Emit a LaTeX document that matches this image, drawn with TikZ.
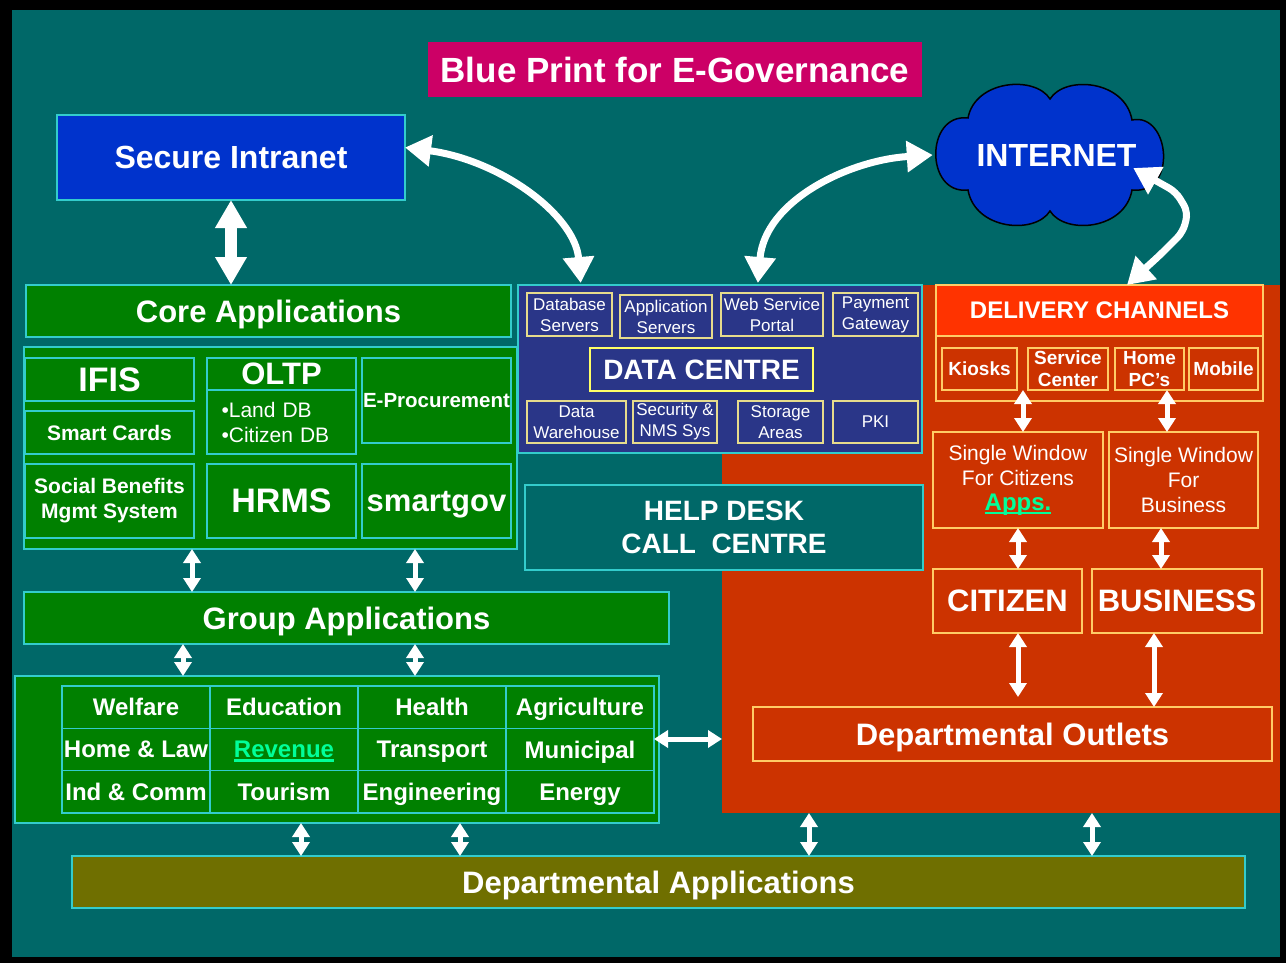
\documentclass[tikz,border=0pt]{standalone}
\usepackage{fontspec}
\setmainfont{Liberation Sans}
\usetikzlibrary{arrows.meta}

\definecolor{bgteal}{RGB}{0,104,104}
\definecolor{edgecyan}{RGB}{51,204,204}
\definecolor{appgreen}{RGB}{0,128,0}
\definecolor{netblue}{RGB}{0,51,204}
\definecolor{titlepink}{RGB}{204,0,102}
\definecolor{dcnavy}{RGB}{42,54,136}
\definecolor{outred}{RGB}{204,51,0}
\definecolor{chanred}{RGB}{255,51,0}
\definecolor{edgeyellow}{RGB}{255,204,102}
\definecolor{dcyellow}{RGB}{255,255,102}
\definecolor{dcbeige}{RGB}{230,220,140}
\definecolor{deptolive}{RGB}{111,111,0}
\definecolor{linkgreen}{RGB}{0,255,153}

\newcommand\greenul[1]{{\color{linkgreen}\setbox0=\hbox{#1}\rlap{\rule[-4pt]{\wd0}{2.5pt}}\box0}}

\tikzset{
  box/.style={draw=edgecyan, line width=1.2pt, inner sep=0pt, outer sep=0pt, text=white, align=center},
  gbox/.style={box, fill=appgreen},
  redzone/.style={fill=outred, inner sep=0pt, outer sep=0pt},
  dcbox/.style={box, draw=dcbeige, font=\fontsize{17}{21}\selectfont},
  rbox/.style={box, draw=edgeyellow},
  hugetext/.style={font=\bfseries\fontsize{34}{38}\selectfont, text depth=0pt},
  bigtext/.style={font=\bfseries\fontsize{32}{36}\selectfont, text depth=0pt},
  largetext/.style={font=\bfseries\fontsize{31}{35}\selectfont, text depth=0pt},
  dctext/.style={font=\bfseries\fontsize{28}{33}\selectfont},
  gridtext/.style={font=\bfseries\fontsize{24}{28}\selectfont, text depth=0pt},
  cardtext/.style={font=\bfseries\fontsize{21}{25}\selectfont},
  plaintext/.style={font=\fontsize{21}{25}\selectfont},
  chantext/.style={font=\bfseries\fontsize{19}{22}\selectfont},
  cell/.style={gbox, minimum width=148pt, minimum height=42.33pt, gridtext},
  dbl/.style={draw=white, line width=5pt, {Triangle[length=14pt,width=17pt]}-{Triangle[length=14pt,width=17pt]}},
  fatdbl/.style={draw=white, line width=12pt, {Triangle[length=28pt,width=30pt]}-{Triangle[length=28pt,width=30pt]}},
  curvy/.style={draw=white, line width=7pt, {Triangle[length=26pt,width=30pt]}-{Triangle[length=26pt,width=30pt]}}
}

\begin{document}
\begin{tikzpicture}[x=1pt,y=-1pt]
% frame and background
\fill[black] (0,0) rectangle (1286,963);
\fill[bgteal] (12,10) rectangle (1280,957);
\node[redzone, minimum width=558pt, minimum height=359pt] (red) at (1001,633.5) {};
\node[redzone, minimum width=358pt, minimum height=171pt] (redtop) at (1101,370) {};

% title, intranet, internet
\node[box, draw=none, fill=titlepink, minimum width=494pt, minimum height=55pt, font=\bfseries\fontsize{35}{38}\selectfont, text depth=0pt] (title) at (675,69.5) {Blue Print for E-Governance};
\node[box, fill=netblue, minimum width=348pt, minimum height=85pt, bigtext] (intra) at (231,157.5) {Secure Intranet};
% cloud
\filldraw[fill=netblue, draw=black, line width=1.5pt] (968,118)
  .. controls (975,80) and (1035,75) .. (1050,99)
  .. controls (1065,75) and (1125,80) .. (1132,120)
  .. controls (1170,112) and (1178,195) .. (1132,190)
  .. controls (1125,230) and (1065,235) .. (1050,211)
  .. controls (1035,235) and (975,230) .. (968,190)
  .. controls (925,195) and (925,113) .. cycle;
\node[inner sep=0pt, minimum width=233pt, minimum height=144pt, text=white, bigtext] (net) at (1049.5,155) {\hspace{14pt}INTERNET};

% core applications
\node[gbox, minimum width=485pt, minimum height=52pt, largetext] (core) at (268.5,311) {Core Applications};
\node[gbox, minimum width=493pt, minimum height=202pt] (corebox) at (270.5,448) {};
\node[gbox, minimum width=169pt, minimum height=43pt, hugetext] (ifis) at (109.5,379.5) {IFIS};
\node[gbox, minimum width=169pt, minimum height=43pt, cardtext] (cards) at (109.5,432.5) {Smart Cards};
\node[gbox, minimum width=149pt, minimum height=32pt, largetext] (oltp) at (281.5,374) {OLTP};
\node[gbox, minimum width=149pt, minimum height=64pt, plaintext, text width=120pt, align=left] (oltpdb) at (281.5,422) {•Land DB\\•Citizen DB};
\node[gbox, minimum width=149pt, minimum height=85pt, font=\bfseries\fontsize{20.5}{24}\selectfont] (eproc) at (436.5,400.5) {E-Procurement};
\node[gbox, minimum width=169pt, minimum height=74pt, cardtext] (social) at (109.5,501) {Social Benefits\\Mgmt System};
\node[gbox, minimum width=149pt, minimum height=74pt, hugetext] (hrms) at (281.5,501) {HRMS};
\node[gbox, minimum width=149pt, minimum height=74pt, largetext] (smart) at (436.5,501) {smartgov};

% group and departmental applications
\node[gbox, minimum width=645pt, minimum height=52pt, largetext] (group) at (346.5,618) {Group Applications};
\node[gbox, minimum width=644pt, minimum height=147pt] (deptbox) at (337,749.5) {};
\node[cell] (welf) at (136,707.2) {Welfare};
\node[cell] (edu) at (284,707.2) {Education};
\node[cell] (health) at (432,707.2) {Health};
\node[cell] (agri) at (580,707.2) {Agriculture};
\node[cell] (home) at (136,749.5) {Home \& Law};
\node[cell] (rev) at (284,749.5) {\greenul{Revenue}};
\node[cell] (trans) at (432,749.5) {Transport};
\node[cell] (muni) at (580,749.5) {Municipal};
\node[cell] (ind) at (136,791.8) {Ind \& Comm};
\node[cell] (tour) at (284,791.8) {Tourism};
\node[cell] (eng) at (432,791.8) {Engineering};
\node[cell] (energy) at (580,791.8) {Energy};
\node[box, fill=deptolive, minimum width=1173pt, minimum height=52pt, largetext] (deptapp) at (658.5,882) {Departmental Applications};

% data centre
\node[box, fill=dcnavy, minimum width=404pt, minimum height=168pt] (dc) at (720,369) {};
\node[dcbox, minimum width=85pt, minimum height=43pt] (dbs) at (569.5,314.5) {Database\\Servers};
\node[dcbox, minimum width=92pt, minimum height=43pt] (aps) at (666,316.5) {Application\\Servers};
\node[dcbox, minimum width=102pt, minimum height=43pt] (wsp) at (772,314.5) {Web Service\\Portal};
\node[dcbox, minimum width=85pt, minimum height=43pt] (pay) at (875.5,314.5) {Payment\\Gateway};
\node[box, draw=dcyellow, minimum width=223pt, minimum height=43pt, dctext] (dcl) at (701.5,369.5) {DATA CENTRE};
\node[dcbox, minimum width=99pt, minimum height=42pt] (dw) at (576.5,422) {Data\\Warehouse};
\node[dcbox, minimum width=84pt, minimum height=42pt] (sec) at (675,422) {Security \&\\NMS Sys};
\node[dcbox, minimum width=85pt, minimum height=42pt] (sto) at (780.5,422) {Storage\\Areas};
\node[dcbox, minimum width=85pt, minimum height=42pt] (pki) at (875.5,422) {PKI};
\node[box, fill=bgteal, minimum width=398pt, minimum height=85pt, dctext] (help) at (724,527.5) {HELP DESK\\CALL\ \ CENTRE};

% delivery channels
\node[rbox, fill=chanred, minimum width=327pt, minimum height=51pt, gridtext] (dlv) at (1099.5,310.5) {DELIVERY CHANNELS};
\node[rbox, minimum width=327pt, minimum height=65pt] (chan) at (1099.5,368.5) {};
\node[rbox, minimum width=75pt, minimum height=42pt, chantext] (kiosk) at (979.5,369) {Kiosks};
\node[rbox, minimum width=80pt, minimum height=42pt, chantext] (svc) at (1068,369) {Service\\Center};
\node[rbox, minimum width=69pt, minimum height=42pt, chantext] (pcs) at (1149.5,369) {Home\\PC’s};
\node[rbox, minimum width=69pt, minimum height=42pt, chantext] (mob) at (1223.5,369) {Mobile};
\node[rbox, minimum width=170pt, minimum height=96pt, plaintext] (swc) at (1018,480) {Single Window\\For Citizens\\{\bfseries\fontsize{24}{25}\selectfont\greenul{Apps.}}};
\node[rbox, minimum width=149pt, minimum height=96pt, plaintext] (swb) at (1183.5,480) {Single Window\\For\\Business};
\node[rbox, minimum width=149pt, minimum height=64pt, largetext] (citizen) at (1007.5,601) {CITIZEN};
\node[rbox, minimum width=170pt, minimum height=64pt, largetext] (business) at (1177,601) {BUSINESS};
\node[rbox, minimum width=519pt, minimum height=54pt, largetext] (outlets) at (1012.5,734) {Departmental Outlets};

% links
\draw[fatdbl] (intra.south) -- (intra.south |- core.north);
\draw[curvy, shorten >=10pt] ([yshift=10pt]intra.east) .. controls (500,160) and (575,215) .. ([xshift=12pt]dbs.north);
\draw[curvy, shorten <=10pt] ([xshift=-15pt]wsp.north) .. controls (765,200) and (850,160) .. (net.west);
\draw[curvy, rounded corners=8pt] ([xshift=-33pt,yshift=-13pt]net.east) -- (1176,192) -- (1188,212) -- (1183,232) -- (1160,255) -- ([xshift=27.5pt]dlv.north);
\draw[dbl] (corebox.south -| 192,0) -- (group.north -| 192,0);
\draw[dbl] (corebox.south -| 415,0) -- (group.north -| 415,0);
\draw[dbl] (group.south -| 183,0) -- (deptbox.north -| 183,0);
\draw[dbl] (group.south -| 415,0) -- (deptbox.north -| 415,0);
\draw[dbl] (deptbox.south -| 301,0) -- (deptapp.north -| 301,0);
\draw[dbl] (deptbox.south -| 460,0) -- (deptapp.north -| 460,0);
\draw[dbl] (red.south -| 809,0) -- (deptapp.north -| 809,0);
\draw[dbl] (red.south -| 1092,0) -- (deptapp.north -| 1092,0);
\draw[dbl] (muni.east |- 0,739) -- (red.west |- 0,739);
\draw[dbl] (kiosk.south -| 1023,0) -- (swc.north -| 1023,0);
\draw[dbl] (pcs.south -| 1167,0) -- (swb.north -| 1167,0);
\draw[dbl] (swc.south) -- (citizen.north -| swc.south);
\draw[dbl] (swb.south -| 1161,0) -- (business.north -| 1161,0);
\draw[dbl, shorten >=10pt] (citizen.south -| 1018,0) -- (outlets.north -| 1018,0);
\draw[dbl] (business.south -| 1154,0) -- (outlets.north -| 1154,0);
\end{tikzpicture}
\end{document}
